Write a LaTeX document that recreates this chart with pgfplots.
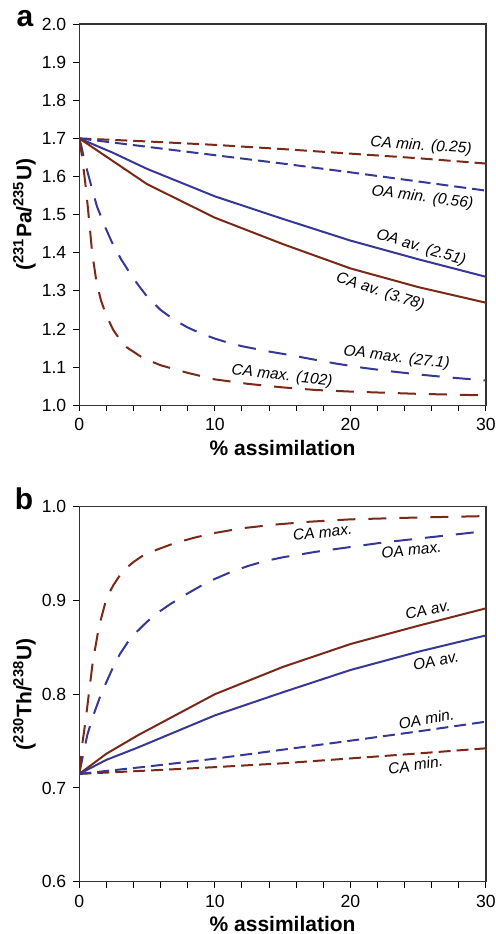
\documentclass[border=0pt]{standalone}
\usepackage{fontspec}
\setmainfont{Liberation Sans}
\usepackage{pgfplots}
\pgfplotsset{compat=1.18}

\definecolor{cabrown}{RGB}{122,40,24}
\definecolor{oablue}{RGB}{55,55,150}

\newcommand{\lbl}{\fontsize{7.75}{9}\selectfont\itshape}
\newcommand{\axlbl}{\fontsize{10.5}{12}\selectfont\bfseries}

\pgfplotsset{
  panel/.style={
    scale only axis,
    width=203.35pt,
    xmin=0, xmax=30,
    xtick={0,10,20,30},
    minor x tick num=4,
    tick align=outside,
    xtick pos=bottom, ytick pos=left,
    major tick length=3pt, minor tick length=3pt,
    tick style={line width=0.5pt, black},
    axis line style={line width=0.6pt, black!80},
    tick label style={font=\fontsize{8.8}{10}\selectfont},
    /pgf/number format/assume math mode=true,
    yticklabel style={/pgf/number format/.cd, fixed, fixed zerofill, precision=1},
    xlabel={\axlbl\% assimilation},
    xlabel style={at={(axis description cs:0.5,-0.132)}, anchor=base, font=\axlbl},
    ylabel style={at={(axis description cs:-0.135,0.5)}, anchor=center, font=\axlbl},
  },
  cmin/.style={cabrown, line width=1pt, dash pattern=on 6pt off 3pt},
  omin/.style={oablue, line width=1pt, dash pattern=on 6pt off 3pt},
  cav/.style={cabrown, line width=1pt},
  oav/.style={oablue, line width=1pt},
  cmax/.style={cabrown, line width=1pt, dash pattern=on 9pt off 6.5pt},
  omax/.style={oablue, line width=1pt, dash pattern=on 9pt off 6.5pt},
}

\begin{document}
\begin{tikzpicture}

% panel a
\begin{axis}[panel, at={(39.65pt,264.35pt)}, anchor=south west,
  height=190.65pt, ymin=1.0, ymax=2.0, ytick={1.0,1.1,...,2.0},
  ylabel={\axlbl(\textsuperscript{231}Pa/\textsuperscript{235}U)}]
\addplot[cmin] coordinates {(0,1.70) (5,1.692) (10,1.683) (15,1.672) (20,1.660) (25,1.648) (30,1.634)};
\addplot[omin] coordinates {(0,1.70) (5,1.678) (10,1.656) (15,1.634) (20,1.611) (25,1.587) (30,1.563)};
\addplot[oav] coordinates {(0,1.70) (2.5,1.662) (5,1.620) (10,1.548) (15,1.489) (20,1.432) (25,1.383) (30,1.337)};
\addplot[cav] coordinates {(0,1.70) (2.5,1.640) (5,1.580) (10,1.492) (15,1.423) (20,1.359) (25,1.310) (30,1.269)};
\addplot[omax] coordinates {(0,1.70) (0.15,1.680) (0.3,1.655) (0.66,1.605) (1.0,1.560) (1.3,1.522) (1.9,1.468) (2.4,1.428) (3.1,1.382) (4.0,1.332) (5,1.285) (6,1.250) (7,1.224) (8,1.204) (9,1.188) (10,1.175) (11,1.164) (12,1.155) (13,1.148) (14,1.141) (15.5,1.132) (17,1.122) (19,1.109) (21,1.098) (23,1.089) (25,1.081) (27,1.074) (30,1.065)};
\addplot[cmax] coordinates {(0,1.70) (0.15,1.665) (0.3,1.625) (0.45,1.580) (0.6,1.530) (0.75,1.475) (0.95,1.400) (1.28,1.320) (1.6,1.275) (2.0,1.235) (2.5,1.198) (3.0,1.172) (3.5,1.152) (4.7,1.124) (6,1.105) (8,1.085) (10,1.068) (12.5,1.056) (15,1.047) (17.5,1.040) (20,1.036) (25,1.030) (30,1.026)};
\node[rotate=-4, font=\lbl] at (axis cs:25.2,1.680) {CA min. (0.25)};
\node[rotate=-7.5, font=\lbl] at (axis cs:25.3,1.544) {OA min. (0.56)};
\node[rotate=-17, font=\lbl] at (axis cs:25.2,1.4125) {OA av. (2.51)};
\node[rotate=-18, font=\lbl] at (axis cs:22.2,1.297) {CA av. (3.78)};
\node[rotate=-7, font=\lbl] at (axis cs:23.4,1.124) {OA max. (27.1)};
\node[rotate=-6.5, font=\lbl] at (axis cs:14.95,1.077) {CA max. (102)};
\end{axis}

% panel b
\begin{axis}[panel, at={(39.65pt,26.15pt)}, anchor=south west,
  height=187.5pt, ymin=0.6, ymax=1.0, ytick={0.6,0.7,0.8,0.9,1.0},
  ylabel={\axlbl(\textsuperscript{230}Th/\textsuperscript{238}U)}]
\addplot[cmin] coordinates {(0,0.715) (5,0.7185) (10,0.7222) (15,0.7263) (20,0.7315) (25,0.7368) (30,0.7423)};
\addplot[omin] coordinates {(0,0.715) (5,0.7228) (10,0.7312) (15,0.7408) (20,0.7504) (25,0.7603) (30,0.7707)};
\addplot[cav] coordinates {(0,0.715) (2,0.7365) (4.3,0.756) (10,0.800) (15,0.829) (20,0.8535) (25,0.873) (30,0.8916)};
\addplot[oav] coordinates {(0,0.715) (2,0.730) (4.3,0.743) (10,0.7774) (15,0.802) (20,0.8258) (25,0.8453) (30,0.8627)};
\addplot[omax] coordinates {(0,0.715) (0.3,0.737) (0.6,0.757) (1.0,0.776) (1.5,0.796) (2.0,0.813) (2.5,0.829) (3.0,0.843) (3.6,0.856) (4.2,0.866) (4.9,0.876) (5.7,0.886) (6.7,0.896) (7.7,0.905) (8.9,0.915) (10,0.923) (11.3,0.931) (12.5,0.937) (13.7,0.942) (15,0.946) (17.5,0.952) (20,0.957) (22.5,0.962) (25,0.966) (27.5,0.970) (30,0.974)};
\addplot[cmax] coordinates {(0,0.715) (0.2,0.745) (0.45,0.770) (0.7,0.800) (1.0,0.835) (1.45,0.872) (2.0,0.902) (2.5,0.916) (3.0,0.927) (3.5,0.935) (4.0,0.941) (4.6,0.947) (5.7,0.954) (7,0.961) (8.5,0.967) (10,0.972) (12,0.977) (14.5,0.981) (17,0.984) (20,0.9865) (25,0.9885) (30,0.990)};
\node[rotate=6.5, font=\lbl] at (axis cs:17.95,0.9727) {CA max.};
\node[rotate=7, font=\lbl] at (axis cs:24.5,0.9538) {OA max.};
\node[rotate=12, font=\lbl] at (axis cs:25.7,0.8898) {CA av.};
\node[rotate=12, font=\lbl] at (axis cs:26.3,0.8357) {OA av.};
\node[rotate=10.5, font=\lbl] at (axis cs:25.6,0.7735) {OA min.};
\node[rotate=9, font=\lbl] at (axis cs:24.8,0.7245) {CA min.};
\end{axis}

\node[anchor=base, font=\fontsize{15}{18}\selectfont\bfseries] at (12.5pt,453.65pt) {a};
\node[anchor=base, font=\fontsize{15}{18}\selectfont\bfseries] at (12pt,212pt) {b};

\pgfresetboundingbox
\useasboundingbox (0,0) rectangle (248pt,467pt);
\end{tikzpicture}
\end{document}
